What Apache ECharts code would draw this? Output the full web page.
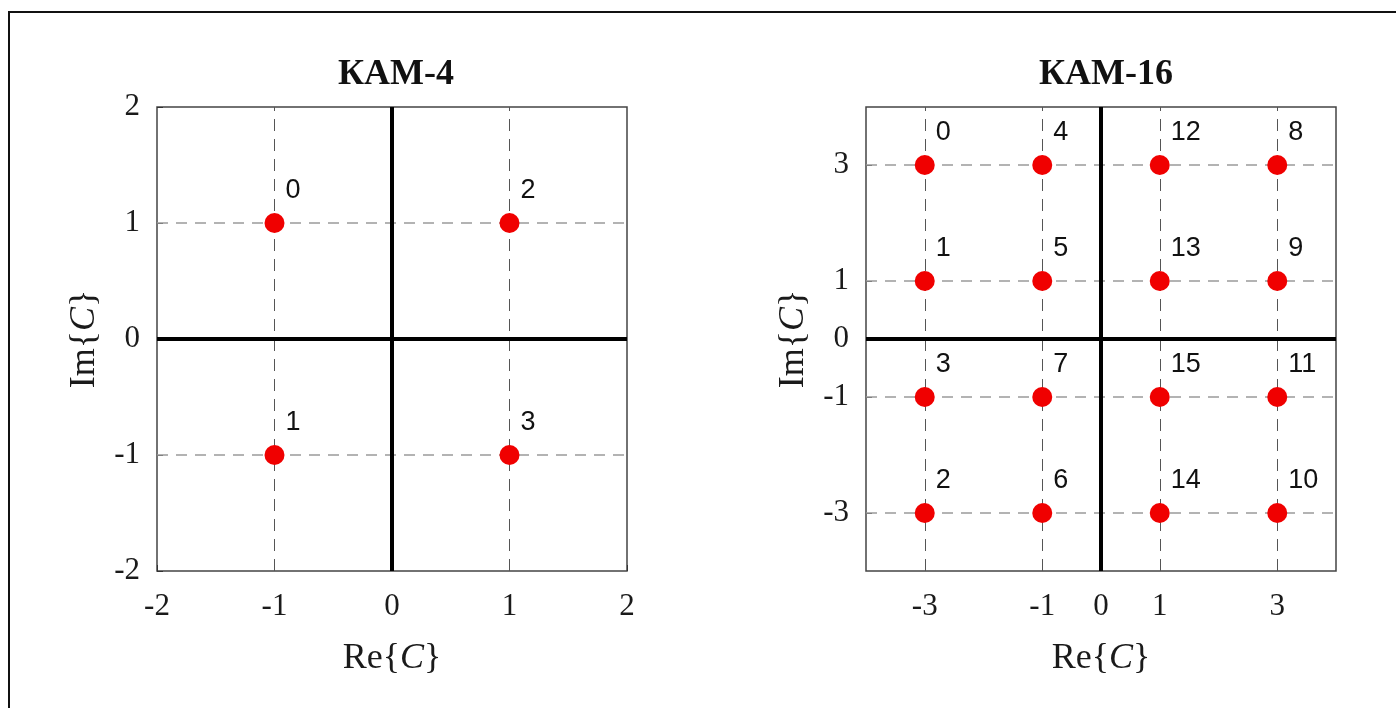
<!DOCTYPE html>
<html>
<head>
<meta charset="utf-8">
<script src="https://cdn.jsdelivr.net/npm/echarts@6/dist/echarts.min.js"></script>
<style>
html,body{margin:0;padding:0;background:#fff;}
#chart{width:1396px;height:708px;position:absolute;left:0;top:0;}
#frame{position:absolute;left:8px;top:11px;width:1400px;height:720px;border-left:2px solid #111;border-top:2px solid #111;pointer-events:none;}
</style>
</head>
<body>
<div id="chart"></div>
<div id="frame"></div>
<script>
// ---- data ----
const titles = ['КАМ-4', 'КАМ-16'];
const qam4Ticks = [-2, -1, 0, 1, 2];
const qam4GridLines = [-1, 1];
const qam4Re = [-1, -1, 1, 1];
const qam4Im = [1, -1, 1, -1];
const qam4Labels = ['0', '1', '2', '3'];

const qam16Ticks = [-3, -1, 0, 1, 3];
const qam16GridLines = [-3, -1, 1, 3];
const qam16Re = [-3, -1, 1, 3, -3, -1, 1, 3, -3, -1, 1, 3, -3, -1, 1, 3];
const qam16Im = [3, 3, 3, 3, 1, 1, 1, 1, -1, -1, -1, -1, -3, -3, -3, -3];
const qam16Labels = ['0', '4', '12', '8', '1', '5', '13', '9', '3', '7', '15', '11', '2', '6', '14', '10'];

// ---- styles ----
const serif = 'Liberation Serif';
const sans = 'Liberation Sans';

function makeAxis(dim, gridIndex, min, max, ticks) {
  const isX = dim === 'x';
  return {
    type: 'value',
    gridIndex: gridIndex,
    min: min, max: max, interval: 1,
    position: isX ? 'bottom' : 'left',
    axisLine: { show: false, onZero: false },
    axisTick: { show: true, inside: true, length: 6, customValues: ticks, lineStyle: { color: '#333', width: 1 } },
    axisLabel: {
      customValues: ticks,
      fontFamily: serif, fontSize: 31, color: '#1a1a1a',
      margin: isX ? 20 : 17
    },
    splitLine: { show: false },
    name: isX ? '{r|Re{}{c|C}{r|}}' : '{r|Im{}{c|C}{r|}}',
    nameLocation: 'middle',
    nameGap: isX ? 70 : 54,
    nameTextStyle: {
      fontFamily: serif, fontSize: 36, color: '#1a1a1a',
      rich: {
        r: { fontFamily: serif, fontSize: 36, color: '#1a1a1a' },
        c: { fontFamily: serif, fontSize: 36, fontStyle: 'italic', color: '#1a1a1a' }
      }
    }
  };
}

function gridSeries(gridIndex, lines) {
  return [{
    type: 'scatter', xAxisIndex: gridIndex, yAxisIndex: gridIndex, data: [], z: 1, silent: true,
    markLine: {
      silent: true, symbol: 'none', animation: false,
      label: { show: false },
      lineStyle: { color: '#9a9a9a', width: 1.6, type: [11, 8] },
      data: lines.map(v => ({ yAxis: v }))
    }
  }, {
    type: 'scatter', xAxisIndex: gridIndex, yAxisIndex: gridIndex, data: [], z: 1, silent: true,
    markLine: {
      silent: true, symbol: 'none', animation: false,
      label: { show: false },
      lineStyle: { color: '#555', width: 1, type: [12, 8] },
      data: lines.map(v => ({ xAxis: v }))
    }
  }, {
    type: 'scatter', xAxisIndex: gridIndex, yAxisIndex: gridIndex, data: [], z: 2, silent: true,
    markLine: {
      silent: true, symbol: 'none', animation: false,
      label: { show: false },
      lineStyle: { color: '#000', width: 4, type: 'solid' },
      data: [{ xAxis: 0 }, { yAxis: 0 }]
    }
  }];
}

function pointSeries(gridIndex, re, im, labels) {
  return {
    type: 'scatter', xAxisIndex: gridIndex, yAxisIndex: gridIndex, z: 5,
    symbol: 'circle', symbolSize: 20,
    itemStyle: { color: '#f00000', opacity: 1 },
    data: re.map((x, i) => ({ value: [x, im[i]], name: labels[i] })),
    label: {
      show: true, position: 'right', distance: 1, offset: [0, -32],
      formatter: p => p.name,
      fontFamily: sans, fontSize: 27, color: '#111'
    },
    animation: false
  };
}

const grids = [
  { left: 157, top: 107, width: 470, height: 464, show: true, borderColor: '#444', borderWidth: 1.5, backgroundColor: 'transparent' },
  { left: 866, top: 107, width: 470, height: 464, show: true, borderColor: '#444', borderWidth: 1.5, backgroundColor: 'transparent' }
];

const titleStyle = { fontFamily: serif, fontWeight: 'bold', fontSize: 36, color: '#111' };

const option = {
  backgroundColor: '#fff',
  animation: false,
  title: [
    { text: titles[0], left: 391, top: 52, textAlign: 'center', textStyle: titleStyle },
    { text: titles[1], left: 1101, top: 52, textAlign: 'center', textStyle: titleStyle }
  ],
  grid: grids,
  xAxis: [makeAxis('x', 0, -2, 2, qam4Ticks), makeAxis('x', 1, -4, 4, qam16Ticks)],
  yAxis: [makeAxis('y', 0, -2, 2, qam4Ticks), makeAxis('y', 1, -4, 4, qam16Ticks)],
  series: [
    ...gridSeries(0, qam4GridLines),
    ...gridSeries(1, qam16GridLines),
    pointSeries(0, qam4Re, qam4Im, qam4Labels),
    pointSeries(1, qam16Re, qam16Im, qam16Labels)
  ]
};

const chart = echarts.init(document.getElementById('chart'), null, { renderer: 'canvas' });
chart.setOption(option);
</script>
</body>
</html>
